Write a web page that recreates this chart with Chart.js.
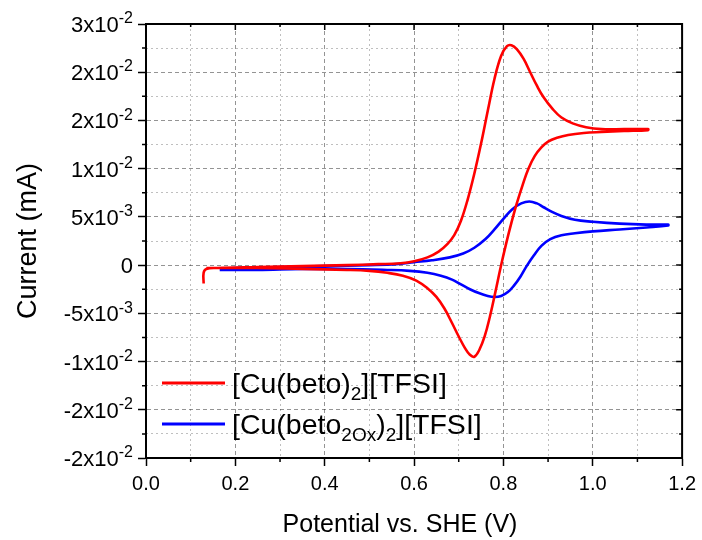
<!DOCTYPE html>
<html>
<head>
<meta charset="utf-8">
<script src="https://cdn.jsdelivr.net/npm/chart.js@4.4.1/dist/chart.umd.min.js"></script>
<style>
  html, body { margin: 0; padding: 0; background: #fff; }
</style>
</head>
<body>
<canvas id="cv" width="702" height="540"></canvas>
<script>
// cyclic voltammograms, anodic sweep first then back to the start
const redPotential = [0.129, 0.129, 0.135, 0.16, 0.25, 0.35, 0.45, 0.52, 0.57, 0.6, 0.63, 0.655, 0.675, 0.69, 0.705, 0.72, 0.735, 0.75, 0.765, 0.78, 0.795, 0.808, 0.818, 0.83, 0.845, 0.86, 0.875, 0.89, 0.91, 0.93, 0.955, 0.985, 1.02, 1.07, 1.124,
  1.124, 1.07, 1.02, 0.98, 0.945, 0.92, 0.9, 0.885, 0.87, 0.856, 0.843, 0.83, 0.818, 0.806, 0.794, 0.782, 0.77, 0.758, 0.746, 0.735, 0.725, 0.714, 0.7, 0.685, 0.668, 0.65, 0.63, 0.605, 0.575, 0.54, 0.5, 0.45, 0.35, 0.25, 0.16, 0.135];
const redCurrent = [-0.0019, -0.0008, -0.0004, -0.0003, -0.0002, -0.0001, 0.0000, 0.0001, 0.0002, 0.0004, 0.0008, 0.0014, 0.0022, 0.0031, 0.0046, 0.0068, 0.0095, 0.0126, 0.0160, 0.0193, 0.0217, 0.0227, 0.0228, 0.0224, 0.0214, 0.0200, 0.0186, 0.0174, 0.0162, 0.0153, 0.0147, 0.0143, 0.0141, 0.0141, 0.0141,
  0.0140, 0.0139, 0.0138, 0.0137, 0.0135, 0.0132, 0.0128, 0.0122, 0.0113, 0.0100, 0.0083, 0.0064, 0.0044, 0.0022, -0.0002, -0.0028, -0.0053, -0.0074, -0.0088, -0.0095, -0.0093, -0.0086, -0.0074, -0.0060, -0.0045, -0.0033, -0.0024, -0.0016, -0.0011, -0.0008, -0.0006, -0.0005, -0.0004, -0.0003, -0.0003, -0.0003];

const bluePotential = [0.165, 0.2, 0.3, 0.4, 0.5, 0.56, 0.6, 0.64, 0.68, 0.71, 0.735, 0.76, 0.78, 0.8, 0.82, 0.84, 0.858, 0.875, 0.89, 0.91, 0.93, 0.96, 1.0, 1.06, 1.12, 1.169,
  1.169, 1.12, 1.06, 1.0, 0.96, 0.93, 0.905, 0.885, 0.868, 0.852, 0.838, 0.824, 0.81, 0.795, 0.78, 0.765, 0.745, 0.725, 0.705, 0.685, 0.66, 0.63, 0.59, 0.54, 0.45, 0.35, 0.25, 0.165];
const blueCurrent = [-0.0004, -0.0003, -0.0002, -0.0001, 0.0000, 0.0001, 0.0003, 0.0005, 0.0008, 0.0012, 0.0018, 0.0027, 0.0037, 0.0048, 0.0058, 0.0064, 0.0066, 0.0064, 0.0060, 0.0055, 0.0051, 0.0047, 0.0045, 0.0043, 0.0042, 0.0042,
  0.0041, 0.0039, 0.0037, 0.0035, 0.0033, 0.0031, 0.0027, 0.0020, 0.0010, -0.0001, -0.0012, -0.0021, -0.0028, -0.0032, -0.0033, -0.0032, -0.0029, -0.0025, -0.0020, -0.0015, -0.0011, -0.0008, -0.0006, -0.0005, -0.0004, -0.0004, -0.0005, -0.0005];

// _{..} = subscript, ^{..} = superscript
const seriesNames = ['[Cu(beto)_{2}][TFSI]', '[Cu(beto_{2Ox})_{2}][TFSI]'];
const seriesColors = ['#ff0000', '#0000ff'];

const xTitle = 'Potential vs. SHE (V)';
const yTitle = 'Current (mA)';
const xTickLabels = ['0.0', '0.2', '0.4', '0.6', '0.8', '1.0', '1.2'];
const yTickValues = [0.025, 0.02, 0.015, 0.01, 0.005, 0, -0.005, -0.01, -0.015, -0.02];
const yTickLabels = ['3x10^{-2}', '2x10^{-2}', '2x10^{-2}', '1x10^{-2}', '5x10^{-3}', '0', '-5x10^{-3}', '-1x10^{-2}', '-2x10^{-2}', '-2x10^{-2}'];

const FONT = 'Arial, "Liberation Sans", sans-serif';

function toPoints(xs, ys) {
  return xs.map((x, i) => ({ x: x, y: ys[i] }));
}

// split "abc_{2}def" into plain / sub / sup pieces
function splitRich(text) {
  const parts = [];
  const re = /([_^])\{([^}]*)\}/g;
  let last = 0, m;
  while ((m = re.exec(text))) {
    if (m.index > last) parts.push({ t: text.slice(last, m.index), k: '' });
    parts.push({ t: m[2], k: m[1] });
    last = re.lastIndex;
  }
  if (last < text.length) parts.push({ t: text.slice(last), k: '' });
  return parts;
}

function drawRich(ctx, text, x, y, size, align, ratio) {
  const parts = splitRich(text);
  const small = Math.round(size * ratio);
  let w = 0;
  parts.forEach(p => {
    ctx.font = (p.k ? small : size) + 'px ' + FONT;
    p.w = ctx.measureText(p.t).width;
    w += p.w;
  });
  let cx = align === 'right' ? x - w : align === 'center' ? x - w / 2 : x;
  ctx.textAlign = 'left';
  ctx.textBaseline = 'alphabetic';
  parts.forEach(p => {
    ctx.font = (p.k ? small : size) + 'px ' + FONT;
    let dy = 0;
    if (p.k === '^') dy = -size * 0.4;
    if (p.k === '_') dy = size * 0.24;
    ctx.fillText(p.t, cx, y + dy);
    cx += p.w;
  });
}

const frame = {
  id: 'frame',
  afterDraw(chart) {
    const ctx = chart.ctx;
    const a = chart.chartArea;
    const ys = chart.scales.y;
    const xm = chart.scales.xMinor, ym = chart.scales.yMinor;
    ctx.save();
    ctx.strokeStyle = '#000';
    ctx.fillStyle = '#000';

    // top and right sides of the box
    ctx.lineWidth = 2;
    ctx.beginPath();
    ctx.moveTo(a.left - 1, a.top);
    ctx.lineTo(a.right, a.top);
    ctx.lineTo(a.right, a.bottom + 1);
    ctx.stroke();

    ctx.lineWidth = 1.5;
    ctx.beginPath();
    xm.ticks.forEach((t, i) => {
      const px = xm.getPixelForValue(t.value);
      const major = i % 2 === 0;
      if (!major) {
        ctx.moveTo(px, a.bottom);
        ctx.lineTo(px, a.bottom + 4);
      }
      ctx.moveTo(px, a.top);
      ctx.lineTo(px, a.top + (major ? 6 : 3));
    });
    ym.ticks.forEach((t, i) => {
      const py = ym.getPixelForValue(t.value);
      const major = i % 2 === 0;
      if (!major) {
        ctx.moveTo(a.left, py);
        ctx.lineTo(a.left - 4, py);
      }
      ctx.moveTo(a.right, py);
      ctx.lineTo(a.right - (major ? 6 : 3), py);
    });
    ctx.stroke();

    // y tick labels with exponents
    yTickValues.forEach((v, i) => {
      const py = ys.getPixelForValue(v);
      drawRich(ctx, yTickLabels[i], a.left - 13, py + 8, 22, 'right', 0.72);
    });

    // x axis title
    drawRich(ctx, xTitle, 400, 532, 25, 'center', 1);

    // legend
    chart.data.datasets.forEach((ds, i) => {
      const yc = 383 + i * 41;
      ctx.strokeStyle = ds.borderColor;
      ctx.lineWidth = 3;
      ctx.beginPath();
      ctx.moveTo(162, yc);
      ctx.lineTo(225, yc);
      ctx.stroke();
      ctx.fillStyle = '#000';
      drawRich(ctx, seriesNames[i], 232, yc + 10, 28.5, 'left', 0.68);
    });
    ctx.restore();
  }
};

Chart.defaults.font.family = FONT;
Chart.defaults.color = '#000';

new Chart(document.getElementById('cv'), {
  type: 'scatter',
  data: {
    datasets: [
      { label: seriesNames[0], data: toPoints(redPotential, redCurrent), borderColor: seriesColors[0] },
      { label: seriesNames[1], data: toPoints(bluePotential, blueCurrent), borderColor: seriesColors[1] }
    ].map(ds => Object.assign(ds, { showLine: true, pointRadius: 0, borderWidth: 2.6, tension: 0.4, backgroundColor: ds.borderColor }))
  },
  options: {
    responsive: false,
    animation: false,
    devicePixelRatio: 1,
    layout: { padding: { left: 0, right: 18, top: 24, bottom: 0 } },
    plugins: { legend: { display: false }, tooltip: { enabled: false } },
    scales: {
      x: {
        type: 'linear', position: 'bottom', min: 0, max: 1.2,
        ticks: { stepSize: 0.2, maxRotation: 0, padding: 6, font: { size: 20 }, callback: v => xTickLabels[Math.round(v / 0.2)] },
        grid: { color: 'rgba(0,0,0,0.42)', lineWidth: 1, tickLength: 8, tickColor: '#000', tickWidth: 1.5 },
        border: { display: true, color: '#000', width: 2, dash: [4, 3] },
        afterFit: s => { s.height = 82; }
      },
      xMinor: {
        type: 'linear', position: 'bottom', min: 0, max: 1.2,
        ticks: { display: false, stepSize: 0.1 },
        grid: { drawTicks: false, lineWidth: 1, color: c => (c.index % 2 ? 'rgba(0,0,0,0.25)' : 'transparent') },
        border: { display: false, dash: [2, 3] },
        afterFit: s => { s.height = 0; }
      },
      y: {
        type: 'linear', position: 'left', min: -0.02, max: 0.025,
        ticks: { display: false, stepSize: 0.005 },
        grid: { color: 'rgba(0,0,0,0.42)', lineWidth: 1, tickLength: 8, tickColor: '#000', tickWidth: 1.5 },
        border: { display: true, color: '#000', width: 2, dash: [4, 3] },
        title: { display: true, text: yTitle, font: { size: 27 }, padding: { top: 12, bottom: 0 } },
        afterFit: s => { s.width = 146; }
      },
      yMinor: {
        type: 'linear', position: 'left', min: -0.02, max: 0.025,
        ticks: { display: false, stepSize: 0.0025 },
        grid: { drawTicks: false, lineWidth: 1, color: c => (c.index % 2 ? 'rgba(0,0,0,0.25)' : 'transparent') },
        border: { display: false, dash: [2, 3] },
        afterFit: s => { s.width = 0; }
      }
    }
  },
  plugins: [frame]
});
</script>
</body>
</html>
